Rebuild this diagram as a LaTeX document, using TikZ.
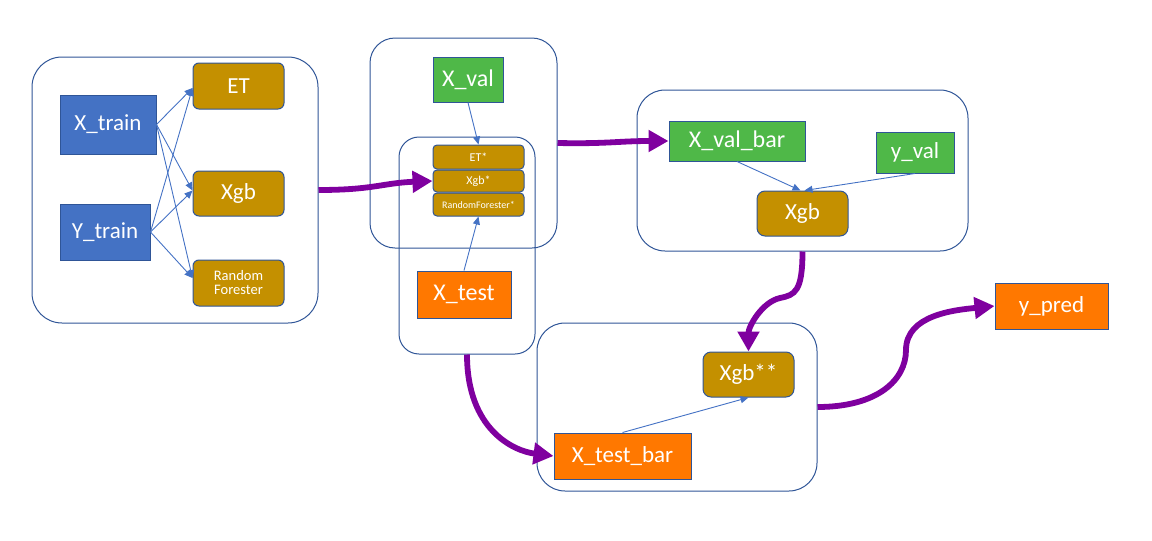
\documentclass[tikz,border=0pt]{standalone}
\usepackage{fontspec}
\setmainfont{Carlito}
\usetikzlibrary{arrows.meta}
\definecolor{mblue}{HTML}{4472C4}
\definecolor{mgold}{HTML}{C49000}
\definecolor{mgreen}{HTML}{4FB848}
\definecolor{morange}{HTML}{FF7800}
\definecolor{mpurple}{HTML}{7F009F}
\definecolor{medge}{HTML}{2F5597}
\tikzset{
  box/.style={draw=medge, line width=1pt, text=white, inner sep=0pt, align=center,
              font=\fontsize{23}{26}\selectfont},
  bluebox/.style={box, fill=mblue},
  greenbox/.style={box, fill=mgreen},
  orangebox/.style={box, fill=morange},
  goldbox/.style={box, fill=mgold, rounded corners=6pt},
  smallgold/.style={box, fill=mgold, rounded corners=4pt, font=\fontsize{12}{13}\selectfont},
  container/.style={draw=medge, line width=1pt, inner sep=0pt},
  thin/.style={draw=mblue, line width=0.9pt, -{Triangle[length=8pt,width=7pt]}},
  thick/.style={draw=mpurple, line width=5.8pt, -{Triangle[length=20pt,width=21pt]}},
}
\begin{document}
\begin{tikzpicture}[x=1pt,y=-1pt]
\useasboundingbox (0,0) rectangle (1152,541);
% containers
\node[container, rounded corners=30pt, minimum width=286pt, minimum height=266pt] (leftbox) at (175,190) {};
\node[container, rounded corners=25pt, minimum width=187pt, minimum height=210pt] (midtop) at (463.5,143) {};
\node[container, rounded corners=20pt, minimum width=136pt, minimum height=217pt] (midinner) at (467,245.5) {};
\node[container, rounded corners=28pt, minimum width=331pt, minimum height=161pt] (rightbox) at (802.5,170.5) {};
\node[container, rounded corners=28pt, minimum width=280pt, minimum height=168pt] (botbox) at (677,407) {};
% left group
\node[bluebox, minimum width=96pt, minimum height=59pt] (xtrain) at (108,124.5) {X\_train};
\node[bluebox, minimum width=90pt, minimum height=56pt] (ytrain) at (105,232) {Y\_train};
\node[goldbox, minimum width=91pt, minimum height=46pt] (et) at (238.5,86) {ET};
\node[goldbox, minimum width=91pt, minimum height=45pt] (xgba) at (238.5,193.5) {Xgb};
\node[goldbox, minimum width=91pt, minimum height=46pt, font=\fontsize{14.5}{14}\selectfont] (rf) at (238.5,283) {Random\\Forester};
% middle group
\node[greenbox, minimum width=70pt, minimum height=45pt, font=\fontsize{24}{26}\selectfont] (xval) at (468,79.5) {X\_val};
\node[smallgold, minimum width=91pt, minimum height=24pt] (ets) at (478.5,157) {ET*};
\node[smallgold, minimum width=91pt, minimum height=22pt] (xgbs) at (478.5,181) {Xgb*};
\node[smallgold, minimum width=91pt, minimum height=23pt, font=\fontsize{10}{11}\selectfont] (rfs) at (478.5,204.5) {RandomForester*};
\node[orangebox, minimum width=94pt, minimum height=47pt, font=\fontsize{24}{26}\selectfont] (xtest) at (464,294.5) {X\_test};
% right group
\node[greenbox, minimum width=136pt, minimum height=40pt, font=\fontsize{24}{26}\selectfont] (xvalbar) at (737,141) {X\_val\_bar};
\node[greenbox, minimum width=78pt, minimum height=41pt] (yval) at (915,152.5) {y\_val};
\node[goldbox, rounded corners=8pt, minimum width=91pt, minimum height=45pt] (xgbb) at (802.5,213.5) {Xgb};
% bottom group
\node[goldbox, rounded corners=8pt, minimum width=91pt, minimum height=45pt] (xgbss) at (748.5,374.5) {Xgb**};
\node[orangebox, minimum width=137pt, minimum height=46pt] (xtestbar) at (622.5,456) {X\_test\_bar};
\node[orangebox, minimum width=113pt, minimum height=46pt] (ypred) at (1051.5,306) {y\_pred};
% thin connectors
\draw[thin] (xtrain.east) -- ([yshift=-2pt]et.west);
\draw[thin] (xtrain.east) -- ([yshift=3pt]xgba.west);
\draw[thin] (xtrain.east) -- ([yshift=5pt]rf.west);
\draw[thin] (ytrain.east) -- ([yshift=-2pt]et.west);
\draw[thin] (ytrain.east) -- ([yshift=3pt]xgba.west);
\draw[thin] (ytrain.east) -- ([yshift=5pt]rf.west);
\draw[thin] (xval.south) -- (ets.north);
\draw[thin] (xtest.north) -- (rfs.south);
\draw[thin] (xvalbar.south) -- ([xshift=-2pt]xgbb.north);
\draw[thin] (yval.south) -- ([xshift=2pt]xgbb.north);
\draw[thin] (xtestbar.north) -- (xgbss.south);
% thick connectors
\coordinate (m3) at (780,298);
\coordinate (m5) at (906,350);
\draw[thick] (leftbox.east) .. controls +(55,0) and +(-50,2) .. (xgbs.west);
\draw[thick] (midtop.east) .. controls +(50,1) and +(-50,0) .. (xvalbar.west);
\draw[thick] (rightbox.south) .. controls +(0,40) and +(15,-3) .. (m3) .. controls +(-18,4) and +(0,-25) .. (xgbss.north);
\draw[thick] (midinner.south) .. controls +(0,75) and +(-40,-5) .. (xtestbar.west);
\draw[thick] (botbox.east) .. controls +(60,0) and +(0,30) .. (m5) .. controls +(0,-35) and +(-40,4) .. (ypred.west);
\end{tikzpicture}
\end{document}
